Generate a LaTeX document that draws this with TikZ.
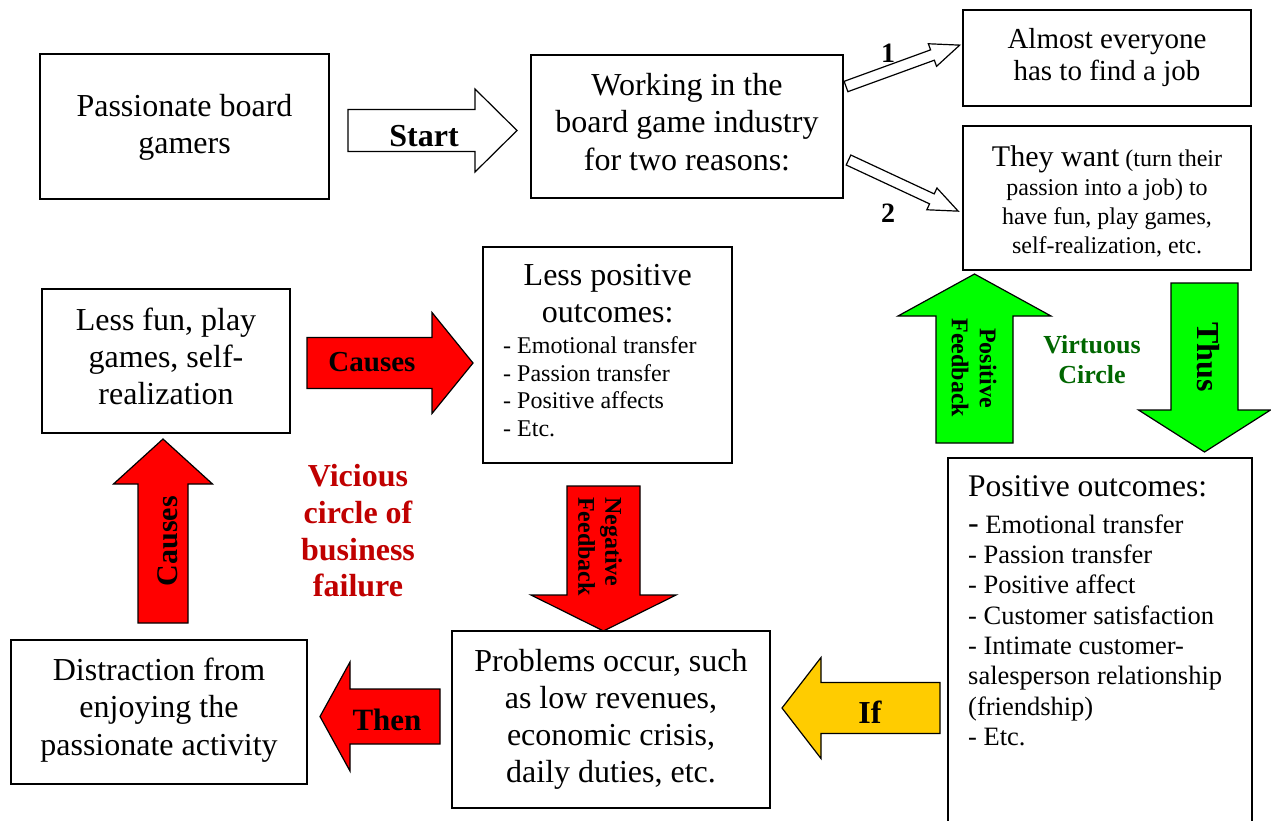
\documentclass[tikz,border=0pt]{standalone}
\usepackage{fontspec}
\setmainfont{Liberation Serif}
\definecolor{vred}{RGB}{192,0,0}
\definecolor{vgreen}{RGB}{0,102,0}
\definecolor{ared}{RGB}{255,0,0}
\definecolor{agreen}{RGB}{0,255,0}
\definecolor{ayellow}{RGB}{255,204,0}
\newcommand{\fs}[2]{\fontsize{#1}{#2}\selectfont}
% #1 style, #2 tail coordinate, #3 angle, #4 length, #5 shaft width, #6 head width, #7 head length
\newcommand{\blockarrow}[7]{%
  \draw[#1, shift={(#2)}, rotate=#3] (0,-#5/2) -- ({#4-#7},-#5/2) -- ({#4-#7},-#6/2) -- (#4,0)
    -- ({#4-#7},#6/2) -- ({#4-#7},#5/2) -- (0,#5/2) -- cycle;}
\tikzset{
  box/.style={draw, line width=1.6pt, inner sep=0pt},
  txt/.style={inner sep=0pt, align=center},
  barrow/.style={draw, line width=1.2pt, line join=miter},
  lbl/.style={inner sep=0pt}
}
\begin{document}
\begin{tikzpicture}[x=1pt, y=-1pt]
\useasboundingbox (0,0) rectangle (1271,820);
\clip (0,0) rectangle (1271,820);
\fill[white] (0,0) rectangle (1271,820);

% boxes
\node[box, minimum width=289pt, minimum height=145pt] (b1) at (184.5,126.5) {};
\node[txt, font=\fs{32}{37.5}] (t1) at ([yshift=-1pt]b1.center) {Passionate board\\gamers};
\node[box, minimum width=312pt, minimum height=143pt] (b2) at (687,126.5) {};
\node[txt, font=\fs{32}{37.5}] (t2) at ([yshift=4.5pt]b2.center) {Working in the\\board game industry\\for two reasons:};
\node[box, minimum width=288pt, minimum height=96pt] (b3) at (1107,58) {};
\node[txt, font=\fs{29}{32}] (t3) at ([yshift=0pt]b3.center) {Almost everyone\\has to find a job};
\node[box, minimum width=288pt, minimum height=144pt] (b4) at (1107,198) {};
\node[txt, font=\fs{24}{29}] (t4) at ([yshift=-3.5pt]b4.center) {{\fs{30}{29}They want} (turn their\\passion into a job) to\\have fun, play games,\\self-realization, etc.};
\node[box, minimum width=248pt, minimum height=144pt] (b5) at (166,361) {};
\node[txt, font=\fs{32}{37}] (t5) at ([yshift=5pt]b5.center) {Less fun, play\\games, self-\\realization};
\node[box, minimum width=249pt, minimum height=216pt] (b6) at (607.5,355) {};
\node[lbl, anchor=north west, text width=209pt, align=left] (t6) at (503,264) {%
  \spaceskip=0pt \xspaceskip=0pt
  {\centering\fs{32}{37}Less positive\\outcomes:\par}
  \vspace{3.5pt}
  {\fs{24}{27.7}- Emotional transfer\\- Passion transfer\\- Positive affects\\- Etc.\par}};
\node[box, minimum width=304pt, minimum height=380pt, anchor=north west] (b7) at (947,457) {};
\node[lbl, anchor=north west, text width=290pt, align=left] (t7) at (968,475) {%
  \spaceskip=0pt \xspaceskip=0pt
  {\fs{31.5}{37}Positive outcomes:\par}
  \vspace{7pt}
  {\fs{26.5}{30.3}{\fs{32}{30.3}-} Emotional transfer\\- Passion transfer\\- Positive affect\\- Customer satisfaction\\- Intimate customer-\\salesperson relationship\\(friendship)\\- Etc.\par}};
\node[box, minimum width=318pt, minimum height=177pt] (b8) at (611,719.5) {};
\node[txt, font=\fs{32}{37}] (t8) at (b8.center) {Problems occur, such\\as low revenues,\\economic crisis,\\daily duties, etc.};
\node[box, minimum width=296pt, minimum height=144pt] (b9) at (159,712) {};
\node[txt, font=\fs{32}{37.5}] (t9) at ([yshift=2pt]b9.center) {Distraction from\\enjoying the\\passionate activity};

% arrow anchor coordinates (tails)
\coordinate (aStart) at (348,130.5);
\coordinate (aOne) at (846,86.5);
\coordinate (aTwo) at (848.5,160);
\coordinate (aCausesR) at (307,363);
\coordinate (aCausesU) at (163,623);
\coordinate (aNeg) at (603.5,486);
\coordinate (aPos) at (974.5,443);
\coordinate (aThus) at (1204.5,283);
\coordinate (aThen) at (440,716.5);
\coordinate (aIf) at (940,708);

\blockarrow{barrow, fill=white}{aStart}{0}{169}{42}{83}{42}
\blockarrow{barrow, fill=white}{aOne}{20}{121}{11}{24}{29}
\blockarrow{barrow, fill=white}{aTwo}{-25}{121}{11}{24}{29}
\blockarrow{barrow, fill=ared}{aCausesR}{0}{166}{51}{101}{41}
\blockarrow{barrow, fill=ared}{aCausesU}{90}{184}{50}{99}{45}
\blockarrow{barrow, fill=ared}{aNeg}{-90}{145}{73}{145}{36}
\blockarrow{barrow, fill=agreen}{aPos}{90}{169}{77}{153}{42}
\blockarrow{barrow, fill=agreen}{aThus}{-90}{169}{67}{132}{42}
\blockarrow{barrow, fill=ared}{aThen}{180}{120}{55}{109}{30}
\blockarrow{barrow, fill=ayellow}{aIf}{180}{158}{51}{101}{39}

% arrow labels
\node[lbl, font=\bfseries\fs{32}{37}, anchor=base] (lStart) at (424,146) {Start};
\node[lbl, font=\bfseries\fs{28}{30}] (lOne) at (888,53) {1};
\node[lbl, font=\bfseries\fs{28}{30}] (lTwo) at (888,213) {2};
\node[lbl, font=\bfseries\fs{29}{33}, anchor=base] (lCausesR) at (372,371) {Causes};
\node[lbl, font=\bfseries\fs{30}{33}, rotate=90] (lCausesU) at (168,541) {Causes};
\node[lbl, font=\bfseries\fs{24}{27}, rotate=-90, align=left] (lNeg) at (600,546.5) {Negative\\Feedback};
\node[lbl, font=\bfseries\fs{24}{28}, rotate=-90, align=center] (lPos) at (974,368) {Positive\\Feedback};
\node[lbl, font=\bfseries\fs{32}{36}, rotate=-90] (lThus) at (1208,357) {Thus};
\node[lbl, font=\bfseries\fs{31}{36}, anchor=base] (lThen) at (387,730) {Then};
\node[lbl, font=\bfseries\fs{32}{36}, anchor=base] (lIf) at (870,723) {If};

% circle captions
\node[lbl, font=\bfseries\fs{26}{30}, text=vgreen, align=center] (vc) at (1092,360) {Virtuous\\Circle};
\node[lbl, font=\bfseries\fs{32}{36.7}, text=vred, align=center] (vic) at (358,531) {Vicious\\circle of\\business\\failure};
\end{tikzpicture}
\end{document}
